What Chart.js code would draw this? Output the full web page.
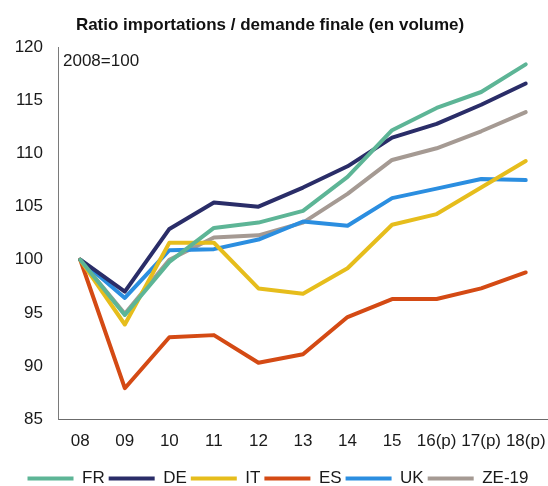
<!DOCTYPE html>
<html>
<head>
<meta charset="utf-8">
<script src="https://cdn.jsdelivr.net/npm/chart.js@4"></script>
<style>
    html, body { margin: 0; padding: 0; background: #fff; }
    #chart { display: block; }
</style>
</head>
<body>
<canvas id="chart" width="548" height="486"></canvas>
<script>
// --- DATI ---
const years = ['08', '09', '10', '11', '12', '13', '14', '15', '16(p)', '17(p)', '18(p)'];
const fr = [100, 94.8, 99.8, 103.0, 103.5, 104.6, 107.8, 112.2, 114.3, 115.8, 118.4];
const de = [100, 97.0, 102.9, 105.4, 105.0, 106.8, 108.8, 111.5, 112.8, 114.6, 116.6];
const it = [100, 93.9, 101.6, 101.6, 97.3, 96.8, 99.2, 103.3, 104.3, 106.8, 109.3];
const es = [100, 87.9, 92.7, 92.9, 90.3, 91.1, 94.6, 96.3, 96.3, 97.3, 98.8];
const uk = [100, 96.4, 100.9, 101.0, 101.9, 103.6, 103.2, 105.8, 106.7, 107.6, 107.5];
const ze = [100, 94.9, 100.0, 102.1, 102.3, 103.5, 106.2, 109.4, 110.5, 112.1, 113.9];
const seriesNames = ['FR', 'DE', 'IT', 'ES', 'UK', 'ZE-19'];
const seriesColors = ['#5db596', '#2a2d68', '#e6bd1c', '#d44a14', '#2b8ee0', '#a59a93'];
const yTicks = [85, 90, 95, 100, 105, 110, 115, 120];

const FONT = '"Liberation Sans", Arial, sans-serif';

// Nota "2008=100" + piccoli spostamenti di titolo e legenda
const extras = {
    id: 'extras',
    beforeDraw(chart) {
        if (chart.legend) {
            chart.legend.top += 13;
            chart.legend.bottom += 13;
            chart.legend.left += 4;
            chart.legend.right += 4;
        }
        if (chart.titleBlock) {
            chart.titleBlock.left -= 4;
            chart.titleBlock.right -= 4;
        }
    },
    afterDraw(chart) {
        const ctx = chart.ctx;
        ctx.save();
        ctx.font = '17px ' + FONT;
        ctx.fillStyle = '#1a1a1a';
        ctx.textBaseline = 'middle';
        ctx.fillText('2008=100', chart.chartArea.left + 5, 61);
        ctx.restore();
    }
};

const values = [fr, de, it, es, uk, ze];
const datasets = values.map((v, i) => ({
    label: seriesNames[i],
    data: v,
    borderColor: seriesColors[i],
    backgroundColor: seriesColors[i],
    borderWidth: 4,
    pointRadius: 0,
    tension: 0,
    borderCapStyle: 'round',
    borderJoinStyle: 'round'
}));

new Chart(document.getElementById('chart'), {
    type: 'line',
    data: { labels: years, datasets },
    options: {
        responsive: false,
        animation: false,
        layout: { padding: { left: 0, right: 0, top: 0, bottom: 2 } },
        plugins: {
            title: {
                display: true,
                text: 'Ratio importations / demande finale (en volume)',
                color: '#111',
                font: { family: FONT, size: 17, weight: 'bold' },
                padding: { top: 15, bottom: 12 }
            },
            legend: {
                display: true,
                position: 'bottom',
                labels: {
                    boxWidth: 46,
                    boxHeight: 4,
                    padding: 4,
                    color: '#1a1a1a',
                    font: { family: FONT, size: 17 },
                    generateLabels(chart) {
                        const items = Chart.defaults.plugins.legend.labels.generateLabels(chart);
                        items.forEach(it => { it.lineWidth = 0; });
                        return items;
                    }
                }
            },
            tooltip: { enabled: false }
        },
        scales: {
            x: {
                offset: true,
                afterFit(scale) {
                    scale.paddingLeft = 0;
                    scale.paddingRight = 0;
                    scale.height = 34;
                },
                grid: { display: false, drawTicks: false },
                border: { display: true, color: '#6b6b6b', width: 1 },
                ticks: {
                    autoSkip: false,
                    maxRotation: 0,
                    padding: 12,
                    color: '#1a1a1a',
                    font: { family: FONT, size: 17 }
                }
            },
            y: {
                min: 85,
                max: 120,
                afterBuildTicks(scale) {
                    scale.ticks = yTicks.map(v => ({ value: v }));
                },
                afterFit(scale) { scale.width = 58; },
                grid: { display: false, drawTicks: false },
                border: { display: true, color: '#7a7a7a', width: 1 },
                ticks: {
                    padding: 15,
                    color: '#1a1a1a',
                    font: { family: FONT, size: 17 }
                }
            }
        }
    },
    plugins: [extras]
});
</script>
</body>
</html>
